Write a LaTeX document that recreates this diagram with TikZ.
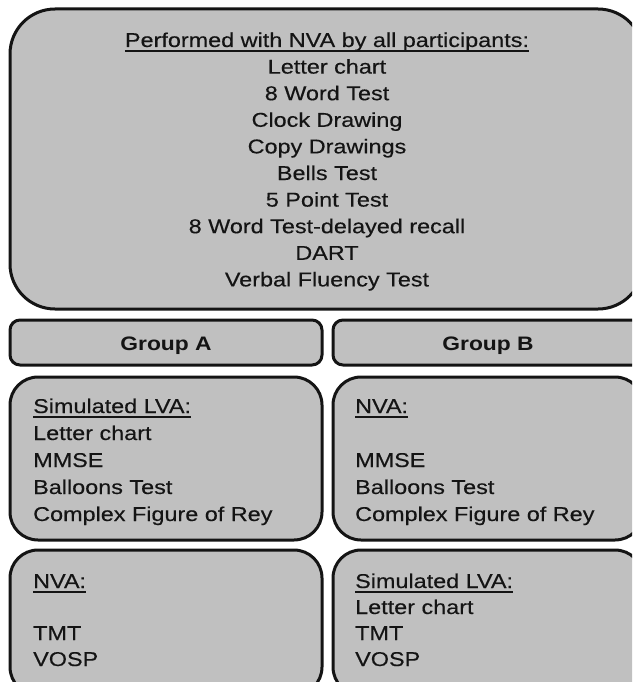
\documentclass[tikz,border=0pt]{standalone}
\usepackage{fontspec}
\setmainfont{Liberation Sans}[FakeStretch=1.17, UprightFeatures={FakeBold=0.35}]
\definecolor{boxfill}{RGB}{192,192,192}
\definecolor{ink}{RGB}{20,20,20}
\newcommand\myul[1]{\setbox0\hbox{#1}\rlap{\rule[-4.6pt]{\wd0}{1.5pt}}\box0}
\tikzset{
  panel/.style={draw=ink, fill=boxfill, line width=3pt},
  txt/.style={inner sep=0pt, text=ink, font=\fontsize{20}{26.6}\selectfont},
  ctxt/.style={txt, anchor=base},
  ltxt/.style={txt, anchor=base west},
  gtxt/.style={txt, anchor=base, font=\fontsize{19.5}{24}\selectfont\bfseries}
}
\begin{document}
\begin{tikzpicture}[x=1pt,y=-1pt]
\useasboundingbox (0,0) rectangle (632,682);
\clip (0,0) rectangle (632,682);
% panels
\draw[panel, rounded corners=45pt] (10,9) rectangle (643,309);
\draw[panel, rounded corners=10pt] (10,320) rectangle (322,365);
\draw[panel, rounded corners=10pt] (333,320) rectangle (643,365);
\draw[panel, rounded corners=28pt] (10,377) rectangle (322,540);
\draw[panel, rounded corners=28pt] (333,377) rectangle (643,540);
\draw[panel, rounded corners=28pt] (10,550) rectangle (322,695);
\draw[panel, rounded corners=28pt] (333,550) rectangle (643,695);
% top panel text
\node[ctxt] (head) at (327,47) {\myul{Performed with NVA by all participants:}};
\foreach [count=\i] \t in {Letter chart,8 Word Test,Clock Drawing,Copy Drawings,Bells Test,5 Point Test,8 Word Test-delayed recall,DART,Verbal Fluency Test}
  \node[ctxt] (top\i) at (327,{47+26.6*\i}) {\t};
% group headers
\node[gtxt] (ga) at (166,350) {Group A};
\node[gtxt] (gb) at (488,350) {Group B};
% middle left
\node[ltxt] (ma0) at (33,413) {\myul{Simulated LVA:}};
\node[ltxt] (ma1) at (33,440) {Letter chart};
\node[ltxt] (ma2) at (33,467) {MMSE};
\node[ltxt] (ma3) at (33,494) {Balloons Test};
\node[ltxt] (ma4) at (33,521) {Complex Figure of Rey};
% middle right
\node[ltxt] (mb0) at (355,413) {\myul{NVA:}};
\node[ltxt] (mb2) at (355,467) {MMSE};
\node[ltxt] (mb3) at (355,494) {Balloons Test};
\node[ltxt] (mb4) at (355,521) {Complex Figure of Rey};
% bottom left
\node[ltxt] (ba0) at (33,588) {\myul{NVA:}};
\node[ltxt] (ba2) at (33,640) {TMT};
\node[ltxt] (ba3) at (33,666) {VOSP};
% bottom right
\node[ltxt] (bb0) at (355,588) {\myul{Simulated LVA:}};
\node[ltxt] (bb1) at (355,614) {Letter chart};
\node[ltxt] (bb2) at (355,640) {TMT};
\node[ltxt] (bb3) at (355,666) {VOSP};
\end{tikzpicture}
\end{document}
